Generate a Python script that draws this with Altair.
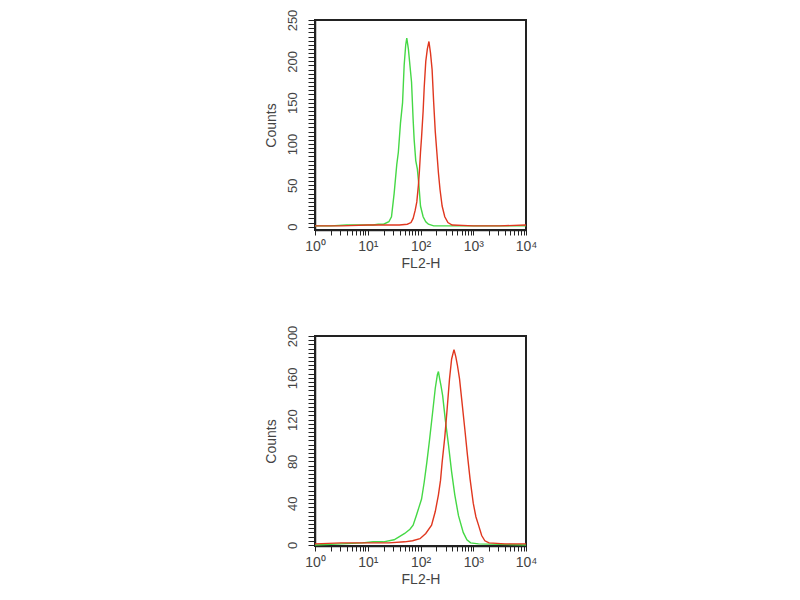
import math
import altair as alt
import pandas as pd

# ---- data (x as log10 of FL2-H, y as counts) ----
top_green_e = [0.0, 0.3, 0.6, 0.9, 1.1, 1.2, 1.3, 1.4, 1.45, 1.5, 1.55, 1.58, 1.62, 1.66, 1.69, 1.72, 1.74,
               1.77, 1.8, 1.83, 1.86, 1.88, 1.91, 1.94, 1.97, 2.0, 2.05, 2.1, 2.15, 2.25, 2.5, 3.0, 3.5, 4.0]
top_green_c = [1, 1, 2, 2, 2, 3, 3, 6, 12, 40, 75, 90, 125, 150, 195, 220, 228,
               215, 195, 175, 130, 105, 80, 70, 50, 25, 12, 6, 3, 1, 1, 1, 1, 1]

top_red_e = [0.0, 0.5, 1.0, 1.5, 1.6, 1.75, 1.82, 1.86, 1.9, 1.93, 1.96, 1.98, 2.0, 2.02, 2.05, 2.07, 2.1,
             2.13, 2.16, 2.19, 2.22, 2.25, 2.28, 2.31, 2.34, 2.37, 2.41, 2.46, 2.52, 2.6, 3.0, 3.5, 4.0]
top_red_c = [1, 1, 2, 2, 2, 3, 5, 10, 20, 30, 50, 68, 90, 108, 140, 168, 200,
             215, 224, 210, 190, 150, 115, 90, 65, 45, 25, 12, 5, 2, 1, 1, 2]

bot_green_e = [0.0, 0.5, 0.9, 1.1, 1.3, 1.5, 1.6, 1.7, 1.8, 1.86, 1.92, 1.97, 2.02, 2.07, 2.12, 2.17, 2.23,
               2.28, 2.32, 2.34, 2.36, 2.39, 2.42, 2.47, 2.53, 2.59, 2.65, 2.72, 2.81, 2.88, 2.95, 3.1, 4.0]
bot_green_c = [0, 1, 2, 3, 3, 5, 8, 11, 15, 19, 28, 36, 44, 60, 79, 100, 127,
               150, 163, 166, 160, 152, 143, 120, 96, 70, 48, 28, 12, 5, 2, 1, 0]

bot_red_e = [0.0, 0.5, 1.0, 1.4, 1.7, 1.85, 1.99, 2.1, 2.21, 2.28, 2.34, 2.38, 2.41, 2.46, 2.5, 2.55, 2.59,
             2.635, 2.67, 2.7, 2.74, 2.79, 2.84, 2.89, 2.94, 3.0, 3.05, 3.1, 3.16, 3.22, 3.3, 3.6, 4.0]
bot_red_c = [1, 2, 2, 2, 3, 4, 6, 11, 19, 32, 48, 62, 79, 103, 127, 159, 178,
             187, 180, 172, 159, 135, 111, 86, 63, 40, 27, 19, 9, 4, 2, 1, 1]

x_decades = [0, 1, 2, 3]
x_minor = [1, 2, 3, 4, 5, 6, 7, 8, 9]


def frame(e, c, series):
    return pd.DataFrame({"e": e, "c": c, "s": series, "o": 0 if series == "green" else 1})


top_df = pd.concat([frame(top_green_e, top_green_c, "green"), frame(top_red_e, top_red_c, "red")])
bot_df = pd.concat([frame(bot_green_e, bot_green_c, "green"), frame(bot_red_e, bot_red_c, "red")])

x_ticks = [d + math.log10(k) for d in x_decades for k in x_minor] + [4.0]
sup = "{'0':'⁰','1':'¹','2':'²','3':'³','4':'⁴'}"
x_label_expr = ("abs(datum.value - round(datum.value)) < 1e-9 ? '10' + " + sup +
                "[toString(round(datum.value))] : ''")

FONT = "Liberation Sans"
TXT = "#444444"


def panel(df, ymin, ymax, ystep, ymajor, h):
    yvals = list(range(0, ymax + 1, ystep))
    return alt.Chart(df).mark_line(strokeWidth=1.4).encode(
        x=alt.X("e:Q",
                scale=alt.Scale(domain=[0, 4], nice=False, zero=False),
                axis=alt.Axis(values=x_ticks, labelExpr=x_label_expr, title="FL2-H",
                              grid=False, tickSize=5, labelFontSize=14, labelPadding=4,
                              titlePadding=3, titleFontSize=14,
                              labelFlush=False, labelOverlap=False)),
        y=alt.Y("c:Q",
                scale=alt.Scale(domain=[ymin, ymax], nice=False, zero=False),
                axis=alt.Axis(values=yvals,
                              labelExpr=f"datum.value % {ymajor} == 0 ? datum.label : ''",
                              title="Counts", grid=False, tickSize=7, labelAngle=270,
                              labelAlign="center", labelBaseline="bottom",
                              labelFontSize=13, labelPadding=9, titlePadding=8,
                              titleFontSize=14,
                              labelOverlap=False, labelFlush=False)),
        color=alt.Color("s:N", scale=alt.Scale(domain=["green", "red"],
                                               range=["#45d845", "#e0371f"]), legend=None),
        order=alt.Order("o:Q"),
    ).properties(width=211, height=h)


top = panel(top_df, -4, 250, 5, 50, 210)
bot = panel(bot_df, -1, 200, 4, 40, 210)

chart = alt.vconcat(top, bot, spacing=53).properties(
    padding={"left": 254, "top": 0, "right": 5, "bottom": 5}
).configure_view(stroke="#222222", strokeWidth=2).configure_axis(
    labelFont=FONT, titleFont=FONT, labelColor=TXT, titleColor=TXT,
    titleFontWeight="normal", domainColor="#222222",
    tickColor="#222222", domainWidth=1.5
)

chart.save("out.html", embed_options={"renderer": "svg", "actions": False})
